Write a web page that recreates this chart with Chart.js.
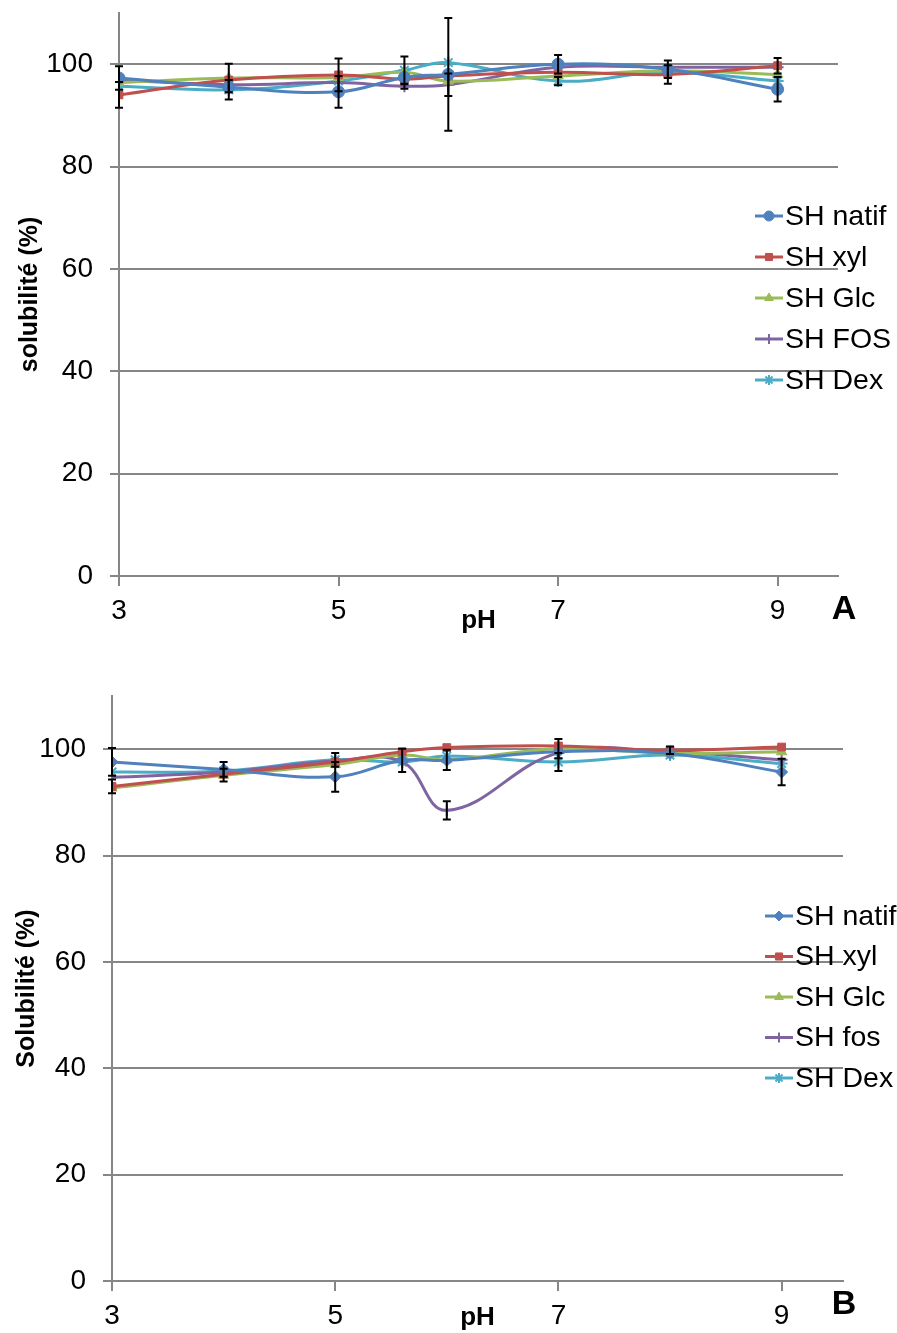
<!DOCTYPE html>
<html>
<head>
<meta charset="utf-8">
<script src="https://cdn.jsdelivr.net/npm/chart.js@4.4.1/dist/chart.umd.min.js"></script>
<style>
  body { margin: 0; background: #fff; width: 897px; height: 1333px; overflow: hidden; position: relative; }
  .box { position: absolute; left: 0; width: 897px; }
</style>
</head>
<body>
<div class="box" style="top:0;height:650px"><canvas id="chartA" width="897" height="650"></canvas></div>
<div class="box" style="top:650px;height:683px"><canvas id="chartB" width="897" height="683"></canvas></div>
<script>
// pH values where solubility was measured
const phValues = [3, 4, 5, 5.6, 6, 7, 8, 9];
const xTicks = [3, 5, 7, 9];
const yTicks = [0, 20, 40, 60, 80, 100];

const namesA = ['SH natif', 'SH xyl', 'SH Glc', 'SH FOS', 'SH Dex'];
const namesB = ['SH natif', 'SH xyl', 'SH Glc', 'SH fos', 'SH Dex'];

// panel A - solubilité (%)
const natifA = [97.3, 95.5, 94.6, 97.4, 98.0, 100.0, 99.0, 95.1];
const xylA   = [94.0, 96.9, 97.9, 97.1, 97.7, 98.4, 98.0, 99.7];
const glcA   = [96.4, 97.3, 97.4, 98.4, 96.7, 97.7, 98.7, 98.0];
const fosA   = [96.9, 96.0, 96.4, 95.7, 96.0, 99.4, 99.4, 99.4];
const dexA   = [95.7, 95.0, 96.7, 98.8, 100.3, 96.7, 98.4, 96.7];
// error bars (0 = none)
const errNatifA = [2.3, 0, 3.1, 0, 11, 1.8, 1.7, 2.4];
const errXylA   = [2.5, 0, 3.2, 0, 0, 0, 1.8, 1.5];
const errGlcA   = [0, 2.8, 0, 0, 0, 0, 0, 0];
const errFosA   = [0, 0, 0, 0.5, 2.2, 0, 0, 0];
const errDexA   = [0, 1.9, 0, 2.7, 0, 0.8, 0, 0];

// panel B - Solubilité (%)
const natifB = [97.6, 96.2, 94.8, 97.9, 97.9, 99.5, 99.2, 95.7];
const xylB   = [93.0, 95.3, 97.6, 99.5, 100.3, 100.6, 99.8, 100.4];
const glcB   = [92.7, 95.1, 97.1, 98.9, 98.0, 100.1, 99.2, 99.5];
const fosB   = [94.7, 95.7, 97.8, 97.6, 88.5, 99.3, 99.5, 98.0];
const dexB   = [95.7, 95.9, 98.0, 97.6, 98.7, 97.6, 98.9, 97.3];
const errNatifB = [2.6, 1.4, 2.8, 2.2, 0, 0, 0, 2.5];
const errXylB   = [1.3, 0, 0, 0, 0, 0, 0.7, 0];
const errGlcB   = [0, 1.2, 0, 0, 1.9, 1.8, 0, 0];
const errFosB   = [0, 0, 0, 0, 1.7, 0, 0, 0];
const errDexB   = [0, 0, 1.3, 0, 0, 1.7, 0, 0];

const colors = ['#4F81BD', '#C0504D', '#9BBB59', '#8064A2', '#4BACC6'];
const markersA = ['circle', 'rect', 'triangle', 'cross', 'star'];
const markersB = ['rectRot', 'rect', 'triangle', 'cross', 'star'];

const FONT = '"Liberation Sans", Arial, sans-serif';
const GRID = '#868686';

function makeDatasets(names, series, errors, markers) {
    return series.map((vals, k) => ({
        label: names[k],
        data: phValues.map((x, i) => ({ x: x, y: vals[i] })),
        errors: errors[k],
        borderColor: colors[k],
        backgroundColor: colors[k],
        pointBackgroundColor: colors[k],
        pointBorderColor: colors[k],
        pointStyle: markers[k],
        pointRadius: markers[k] === 'rect' ? 5.5 : 6,
        pointBorderWidth: markers[k] === 'cross' || markers[k] === 'star' ? 2 : 1,
        borderWidth: 3,
        tension: 0.4,
        fill: false
    }));
}

// black error bars with small caps
const errorBars = {
    id: 'errorBars',
    afterDatasetsDraw(chart) {
        const ctx = chart.ctx;
        const yScale = chart.scales.y;
        ctx.save();
        ctx.strokeStyle = '#000';
        ctx.lineWidth = 2;
        chart.data.datasets.forEach((ds, di) => {
            const meta = chart.getDatasetMeta(di);
            meta.data.forEach((pt, i) => {
                const e = ds.errors[i];
                if (!e) return;
                const v = ds.data[i].y;
                const yt = yScale.getPixelForValue(v + e);
                const yb = yScale.getPixelForValue(v - e);
                ctx.beginPath();
                ctx.moveTo(pt.x, yt); ctx.lineTo(pt.x, yb);
                ctx.moveTo(pt.x - 4, yt); ctx.lineTo(pt.x + 4, yt);
                ctx.moveTo(pt.x - 4, yb); ctx.lineTo(pt.x + 4, yb);
                ctx.stroke();
            });
        });
        ctx.restore();
    }
};

// Excel-like legend sitting inside the plot, plus the panel letter
function sideLegend(cfg) {
    return {
        id: 'sideLegend',
        afterDraw(chart) {
            const ctx = chart.ctx;
            ctx.save();
            chart.data.datasets.forEach((ds, k) => {
                const y = cfg.y0 + k * cfg.gap;
                ctx.strokeStyle = ds.borderColor;
                ctx.fillStyle = ds.borderColor;
                ctx.lineWidth = 3;
                ctx.beginPath();
                ctx.moveTo(cfg.x0, y);
                ctx.lineTo(cfg.x0 + 28, y);
                ctx.stroke();
                ctx.lineWidth = ds.pointBorderWidth;
                Chart.helpers.drawPoint(ctx, { pointStyle: ds.pointStyle, radius: 5, borderWidth: ds.pointBorderWidth, rotation: 0 }, cfg.x0 + 14, y);
                ctx.fillStyle = '#000';
                ctx.font = '28.5px ' + FONT;
                ctx.textBaseline = 'middle';
                ctx.textAlign = 'left';
                ctx.fillText(ds.label, cfg.x0 + 30, y + 1);
            });
            ctx.font = 'bold 34px ' + FONT;
            ctx.textAlign = 'center';
            ctx.textBaseline = 'middle';
            ctx.fillStyle = '#000';
            ctx.fillText(cfg.letter, cfg.letterX, cfg.letterY);
            ctx.restore();
        }
    };
}

function makeOptions(cfg) {
    return {
        responsive: false,
        animation: false,
        devicePixelRatio: 1,
        layout: { padding: { left: 0, top: cfg.top, right: cfg.right, bottom: 0 } },
        plugins: { legend: { display: false }, tooltip: { enabled: false } },
        scales: {
            x: {
                type: 'linear',
                min: 3,
                max: 9.55,
                afterBuildTicks: (s) => { s.ticks = xTicks.map(v => ({ value: v })); },
                afterFit: (s) => { s.height = cfg.xHeight; s.paddingLeft = 0; s.paddingRight = 0; },
                grid: { drawOnChartArea: false, drawTicks: true, tickLength: 10, color: GRID, lineWidth: 2 },
                border: { color: GRID, width: 2 },
                ticks: { color: '#000', font: { family: FONT, size: 28 }, padding: 8, maxRotation: 0 },
                title: { display: true, text: 'pH', color: '#000', font: { family: FONT, size: 26, weight: 'bold' }, padding: { top: 0, bottom: cfg.pHPad } }
            },
            y: {
                min: 0,
                max: 110,
                afterBuildTicks: (s) => { s.ticks = yTicks.map(v => ({ value: v })); },
                afterFit: (s) => { s.width = cfg.left; s.paddingTop = 0; s.paddingBottom = 0; },
                grid: { color: GRID, lineWidth: 2, tickLength: 9 },
                border: { color: GRID, width: 2 },
                ticks: { color: '#000', font: { family: FONT, size: 28 }, padding: 17 },
                title: { display: true, text: cfg.yTitle, color: '#000', font: { family: FONT, size: 25, weight: 'bold' }, padding: { top: cfg.yTitlePad, bottom: 0 } }
            }
        }
    };
}

new Chart(document.getElementById('chartA').getContext('2d'), {
    type: 'line',
    data: {
        datasets: makeDatasets(namesA, [natifA, xylA, glcA, fosA, dexA],
            [errNatifA, errXylA, errGlcA, errFosA, errDexA], markersA)
    },
    options: makeOptions({ top: 13, right: 59, left: 119, xHeight: 74, pHPad: 14, yTitle: 'solubilité (%)', yTitlePad: 15 }),
    plugins: [errorBars, sideLegend({ x0: 755, y0: 216, gap: 41, letter: 'A', letterX: 844, letterY: 610 })]
});

new Chart(document.getElementById('chartB').getContext('2d'), {
    type: 'line',
    data: {
        datasets: makeDatasets(namesB, [natifB, xylB, glcB, fosB, dexB],
            [errNatifB, errXylB, errGlcB, errFosB, errDexB], markersB)
    },
    options: makeOptions({ top: 46, right: 54, left: 112, xHeight: 52, pHPad: 0, yTitle: 'Solubilité (%)', yTitlePad: 12 }),
    plugins: [errorBars, sideLegend({ x0: 765, y0: 266, gap: 40.5, letter: 'B', letterX: 844, letterY: 655 })]
});
</script>
</body>
</html>
